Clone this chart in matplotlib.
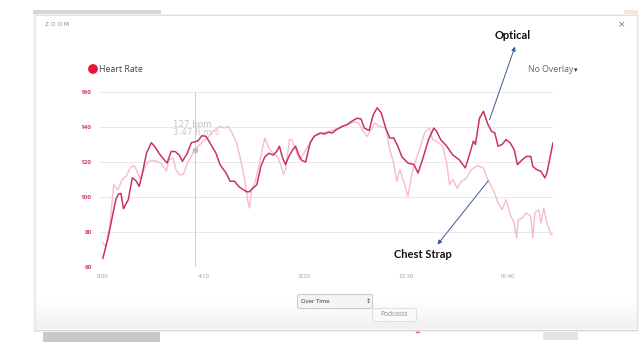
import matplotlib
matplotlib.use("Agg")
import matplotlib.pyplot as plt
import numpy as np
from matplotlib.patches import Rectangle, FancyBboxPatch, Circle, Polygon

# ---- data (seconds, bpm) ----
optical_t = [0, 12, 22, 32, 39, 45, 51, 63, 73, 83, 90, 98, 108, 120, 128, 139, 149, 159,
             169, 179, 189, 197, 209, 219, 235, 245, 255, 265, 280, 290, 305, 315, 326, 336,
             349, 356, 363, 371, 381, 391, 401, 411, 422, 430, 437, 444, 452, 460, 470, 477,
             485, 492, 502, 513, 523, 538, 548, 558, 568, 578, 593, 604, 614, 629, 639, 647,
             659, 669, 679, 689, 700, 710, 720, 730, 740, 755, 770, 780, 791, 806, 819, 826,
             836, 851, 866, 882, 897, 907, 917, 922, 932, 942, 952, 962, 970, 978, 988, 998,
             1008, 1018, 1026, 1038, 1048, 1059, 1064, 1074, 1084, 1094, 1099, 1107, 1114]
optical_bpm = [65, 75.6, 87, 98.5, 101.7, 102, 93.3, 98.5, 111, 109, 106, 113.7, 125, 131,
               129, 125, 122, 119.4, 126, 126, 124, 120.4, 125, 131, 132, 135, 134.7, 131,
               125, 118.5, 113.7, 109, 109, 106, 104, 103, 103, 105, 107, 117.5, 123, 125,
               124, 126, 129, 123, 118.5, 123, 127, 129, 124, 121, 120, 131, 134.7, 136.6,
               136, 137, 136.6, 138.5, 140.4, 141.3, 143, 145, 144.6, 139.4, 138, 147, 151,
               148, 139.4, 133.7, 133.7, 129, 123, 119.4, 118.5, 113.7, 121.3, 132.8, 139.4,
               137.5, 132.8, 129, 124, 121.3, 116.6, 124, 132, 130, 145, 149, 142, 137.5,
               136.6, 129, 130, 132.8, 131, 127, 118.5, 121.3, 123.2, 123.2, 117.5, 115.6,
               114.7, 110.9, 113.7, 123, 131]

chest_t = [0, 7, 17, 27, 37, 48, 58, 68, 76, 83, 93, 103, 113, 128, 144, 157, 164, 174, 181,
           189, 199, 209, 219, 227, 245, 260, 275, 290, 300, 310, 320, 331, 341, 351, 358,
           363, 368, 376, 386, 396, 401, 411, 422, 432, 440, 447, 452, 462, 467, 477, 487,
           497, 508, 523, 543, 563, 583, 604, 624, 634, 644, 654, 666, 674, 684, 700, 710,
           720, 727, 735, 743, 755, 765, 775, 786, 796, 808, 816, 826, 841, 851, 858, 866,
           877, 887, 897, 912, 927, 942, 952, 962, 970, 978, 988, 998, 1008, 1018, 1024,
           1028, 1038, 1048, 1059, 1064, 1069, 1079, 1084, 1091, 1099, 1109, 1114]
chest_bpm = [73.7, 72, 83, 107, 104, 110, 112, 116.6, 118, 115.6, 110, 116.6, 120.4, 120.8,
             119.4, 114.7, 121.3, 122.3, 115.6, 112.8, 112.8, 119.4, 123.2, 127, 131, 134,
             138, 140.4, 139.4, 140.4, 136.6, 131, 121.3, 110, 98.5, 93.7, 104, 108, 117.5,
             129, 133.7, 128, 125, 123, 118.5, 112.8, 115.6, 132.8, 132.8, 127, 121.3, 125,
             129, 134.7, 136.6, 137.5, 139.4, 141.3, 143, 142, 137.5, 134.7, 139.4, 142.3,
             140.4, 139.4, 127, 119.4, 109, 115.6, 110, 100.4, 113.7, 121.3, 129, 136.6,
             139.8, 132.8, 131.8, 129, 119.4, 107, 110, 105, 109, 110, 115.6, 118, 116.6,
             110, 106, 102, 96.6, 92.8, 98.5, 90, 85, 76.6, 87, 88, 90.9, 89, 76.6, 91,
             92.8, 85, 93.7, 85, 78.5, 78.5]

y_ticks = [60, 80, 100, 120, 140, 160]
x_tick_sec = [0, 250, 500, 750, 1000]
x_tick_labels = ["0:00", "4:10", "8:20", "12:30", "16:40"]
cursor_t, cursor_bpm = 227, 127

DARK = "#c9345f"
LIGHT = "#f5bccb"

W, H = 640, 360
fig = plt.figure(figsize=(6.4, 3.6), dpi=100)
fig.patch.set_facecolor("white")

# ---- background overlay in pixel coordinates ----
bg = fig.add_axes([0, 0, 1, 1], zorder=0)
bg.set_xlim(0, W)
bg.set_ylim(H, 0)
bg.axis("off")

# page bits outside modal
bg.add_patch(Rectangle((33, 10), 128, 4, color="#d6d6d6", lw=0))
bg.add_patch(Rectangle((43, 332), 117, 10, color="#c9c9c9", lw=0))
bg.add_patch(Rectangle((543, 332), 35, 8, color="#e4e4e4", lw=0))
bg.add_patch(Rectangle((624, 10), 14, 8, color="#f7e6d8", lw=0))
# modal shadow + box
bg.add_patch(Rectangle((33, 14), 606, 318, facecolor="#f2f2f2", edgecolor="none"))
bg.add_patch(Rectangle((35, 15), 602, 315, facecolor="white", edgecolor="#e2e2e2", lw=0.7))
# bottom gradient inside modal
grad = np.linspace(1.0, 0.94, 50).reshape(-1, 1)
bg.imshow(grad, cmap="gray", vmin=0, vmax=1, extent=(35.5, 636.5, 329.5, 300),
          aspect="auto", zorder=1)
bg.plot([35, 637], [330, 330], color="#d6d6d6", lw=0.8, zorder=2)
bg.plot([416, 419], [332, 332], color="#e06070", lw=1.0, zorder=2)

# header texts
bg.text(45, 25, "Z O O M", fontsize=4.2, color="#8a8a8a", va="center", ha="left",
        family="DejaVu Sans")
bg.text(622, 25, "×", fontsize=6.5, color="#777777", va="center", ha="center")
bg.add_patch(Circle((93, 69), 4.2, color="#e8173c", zorder=3))
bg.text(99, 69.5, "Heart Rate", fontsize=6.3, color="#444444", va="center", ha="left",
        family="Open Sans")
bg.text(528, 69.5, "No Overlay", fontsize=6.3, color="#666666", va="center", ha="left",
        family="Open Sans")
bg.text(576, 70.5, "▾", fontsize=5, color="#333333", va="center", ha="center")

# "Over Time" select
bg.add_patch(FancyBboxPatch((297.5, 294.5), 75, 14, boxstyle="round,pad=0,rounding_size=2",
                            facecolor="#f4f4f4", edgecolor="#c8c8c8", lw=0.7, zorder=3))
bg.text(301, 301.8, "Over Time", fontsize=4.3, color="#333333", va="center", ha="left",
        family="Open Sans", zorder=4)
bg.text(368.5, 301.8, "↕", fontsize=4.5, color="#444444", va="center", ha="center", zorder=4)
# "Podcasts" tooltip
bg.add_patch(FancyBboxPatch((372.5, 308.5), 44, 13, boxstyle="round,pad=0,rounding_size=2",
                            facecolor="#fafafa", edgecolor="#dedede", lw=0.7, zorder=3))
bg.add_patch(Polygon([[390, 321.4], [398, 321.4], [394, 325]], closed=True,
                     facecolor="#fafafa", edgecolor="#dedede", lw=0.5, zorder=3))
bg.text(394.5, 315, "Podcasts", fontsize=4.8, color="#8a8a8a", va="center", ha="center",
        family="Open Sans", zorder=4)

# ---- chart axes ----
left, right = 100 / W, 553 / W
bottom, top = 1 - 267 / H, 1 - 92 / H
ax = fig.add_axes([left, bottom, right - left, top - bottom], zorder=2)
ax.patch.set_alpha(0)
ax.set_xlim(-7, 1114)
ax.set_ylim(60, 160)
for s in ax.spines.values():
    s.set_visible(False)
ax.set_yticks(y_ticks)
ax.set_yticklabels([str(v) for v in y_ticks], fontsize=4.6, color="#d0426c",
                   fontweight="bold", family="Open Sans")
ax.set_xticks(x_tick_sec)
ax.set_xticklabels(x_tick_labels, fontsize=4.3, color="#999999", family="Open Sans")
ax.tick_params(length=0, pad=6)
ax.tick_params(axis="x", pad=5)
ax.grid(axis="y", color="#e9e9e9", lw=0.7)
ax.set_axisbelow(True)

ax.axvline(cursor_t, color="#cfcfcf", lw=0.7, zorder=1)
ax.plot(chest_t, chest_bpm, color=LIGHT, lw=1.0, zorder=2, solid_joinstyle="round")
ax.plot(optical_t, optical_bpm, color=DARK, lw=1.1, zorder=3, solid_joinstyle="round")
ax.plot([cursor_t], [cursor_bpm], "o", color="#bdbdbd", ms=3, zorder=4)
ax.text(174, 141.7, "127 bpm", fontsize=6.2, color="#c4c4c4", va="center", ha="left",
        family="DejaVu Sans", zorder=5)
ax.text(174, 136.6, "3:47 h:m:s", fontsize=6.2, color="#cacaca", va="center", ha="left",
        family="DejaVu Sans", zorder=5)

# annotations
arrow = dict(arrowstyle="-|>,head_length=0.25,head_width=0.12", color="#3d5a98", lw=0.7,
             shrinkA=0, shrinkB=0)
ax.annotate("", xy=(1020, 186), xytext=(957, 144.2), arrowprops=arrow,
            annotation_clip=False, zorder=6)
ax.annotate("", xy=(828, 72.8), xytext=(954, 109.3), arrowprops=arrow,
            annotation_clip=False, zorder=6)
ax.text(1014, 192.3, "Optical", fontsize=8, fontweight="bold", color="#111111",
        family="Lato", ha="center", va="center", clip_on=False)
ax.text(791, 67, "Chest Strap", fontsize=8, fontweight="bold", color="#111111",
        family="Lato", ha="center", va="center", clip_on=False, zorder=6)

fig.savefig("out.png", dpi=100, facecolor="white")
